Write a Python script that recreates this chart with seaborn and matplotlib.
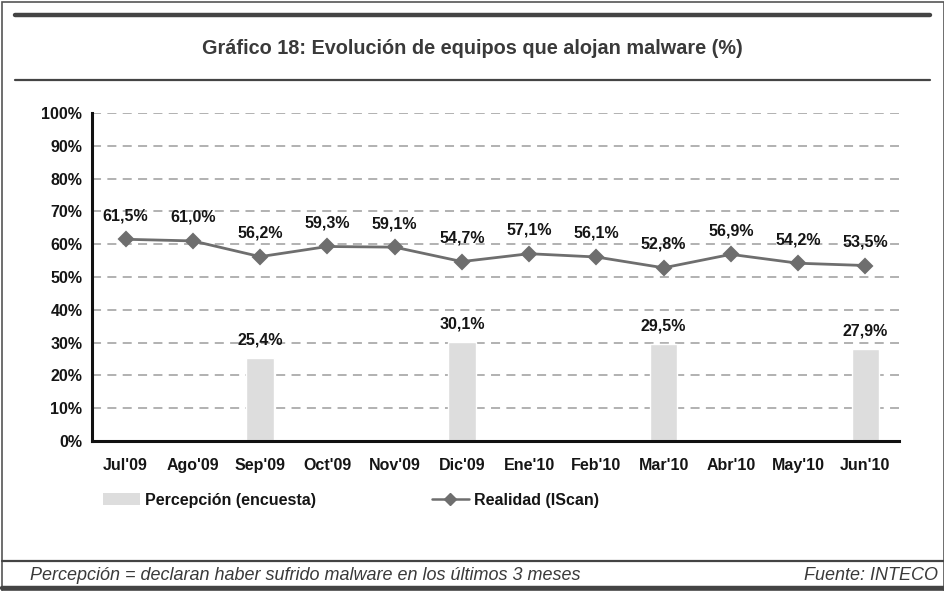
"""Gráfico 18: evolución de equipos que alojan malware."""
import numpy as np
import seaborn as sns
import matplotlib.pyplot as plt
from matplotlib.lines import Line2D
from matplotlib.patches import Patch, Rectangle

months = ["Jul'09", "Ago'09", "Sep'09", "Oct'09", "Nov'09", "Dic'09",
          "Ene'10", "Feb'10", "Mar'10", "Abr'10", "May'10", "Jun'10"]
realidad = [61.5, 61.0, 56.2, 59.3, 59.1, 54.7, 57.1, 56.1, 52.8, 56.9, 54.2, 53.5]
percepcion = [np.nan, np.nan, 25.4, np.nan, np.nan, 30.1,
              np.nan, np.nan, 29.5, np.nan, np.nan, 27.9]

title = 'Gráfico 18: Evolución de equipos que alojan malware (%)'
note = 'Percepción = declaran haber sufrido malware en los últimos 3 meses'
source = 'Fuente: INTECO'

sns.set_style('white')
plt.rcParams['font.family'] = ['Liberation Sans', 'DejaVu Sans']

W, H = 944, 591
fig = plt.figure(figsize=(W / 100, H / 100), dpi=100)
ax = fig.add_axes([92 / W, 1 - 441 / H, 807 / W, 328 / H])

bar_color = '#dddddd'
line_color = '#6e6e6e'
text_color = '#151515'

sns.barplot(x=months, y=percepcion, color=bar_color, width=0.41,
            saturation=1, ax=ax, zorder=2)
sns.pointplot(x=months, y=realidad, color=line_color, markers='D',
              markersize=7, linewidth=2, ax=ax, zorder=3)

# data labels
for i, v in enumerate(realidad):
    ax.annotate(f'{v:.1f}%'.replace('.', ','), (i, v), xytext=(0, 17),
                textcoords='offset points', ha='center', va='center',
                fontsize=11.5, fontweight='bold', color=text_color)
for i, v in enumerate(percepcion):
    if np.isnan(v):
        continue
    ax.annotate(f'{v:.1f}%'.replace('.', ','), (i, v), xytext=(0, 13),
                textcoords='offset points', ha='center', va='center',
                fontsize=11.5, fontweight='bold', color=text_color)

ax.set_ylim(0, 100)
ax.set_xlim(-0.5, 11.5)
ax.set_yticks(range(0, 101, 10))
ax.set_yticklabels([f'{t}%' for t in range(0, 101, 10)])
ax.set_xticks(range(len(months)))
ax.set_xticklabels(months)
ax.set_xticks(np.arange(-0.5, 12, 1), minor=True)
ax.tick_params(axis='x', which='major', length=0, pad=12)
ax.tick_params(axis='x', which='minor', length=10, width=1.6,
               direction='inout', color='#111111')
ax.tick_params(axis='y', length=10, width=1.6, direction='inout',
               color='#111111', pad=2)
for lab in ax.get_xticklabels() + ax.get_yticklabels():
    lab.set_fontsize(11.5)
    lab.set_fontweight('bold')
    lab.set_color(text_color)
ax.set_xlabel('')
ax.set_ylabel('')

ax.yaxis.grid(True, linestyle=(0, (5, 3.5)), color='#ababab', linewidth=1.3)
ax.set_axisbelow(True)
sns.despine(ax=ax)
for s in ('left', 'bottom'):
    ax.spines[s].set_linewidth(2.2)
    ax.spines[s].set_color('#111111')

# legend
handles = [Patch(facecolor=bar_color, edgecolor='none'),
           Line2D([], [], color=line_color, marker='D', markersize=6,
                  linewidth=1.8)]
leg = fig.legend(handles, ['Percepción (encuesta)', 'Realidad (IScan)'],
                 loc='center left', bbox_to_anchor=(103 / W, 1 - 500 / H),
                 ncol=2, frameon=False, handlelength=2.3, handleheight=0.75,
                 handletextpad=0.3, columnspacing=7.3, borderpad=0,
                 borderaxespad=0, prop={'size': 11.5, 'weight': 'bold'})
for t in leg.get_texts():
    t.set_color(text_color)

# title block and footer rules
def hline(y, x0, x1, lw, color='#444444'):
    fig.add_artist(Line2D([x0 / W, x1 / W], [1 - y / H, 1 - y / H],
                          color=color, linewidth=lw))

hline(15, 15, 930, 3.2)
hline(80, 15, 930, 1.6)
hline(561, 2, 944, 1.6)
hline(588, 2, 944, 3.2)

fig.text(0.5, 1 - 48 / H, title, ha='center', va='center', fontsize=14.3,
         fontweight='bold', color='#3a3a3a')
fig.text(30 / W, 1 - 575 / H, note, ha='left', va='center', fontsize=13,
         style='italic', color='#3a3a3a')
fig.text(938 / W, 1 - 575 / H, source, ha='right', va='center',
         fontsize=13, style='italic', color='#3a3a3a')

fig.add_artist(Rectangle((1.5 / W, 0), 1 - 1.5 / W, 1 - 1.5 / H,
                         fill=False, edgecolor='#555555', linewidth=1.2))

fig.savefig('out.png', dpi=100)
